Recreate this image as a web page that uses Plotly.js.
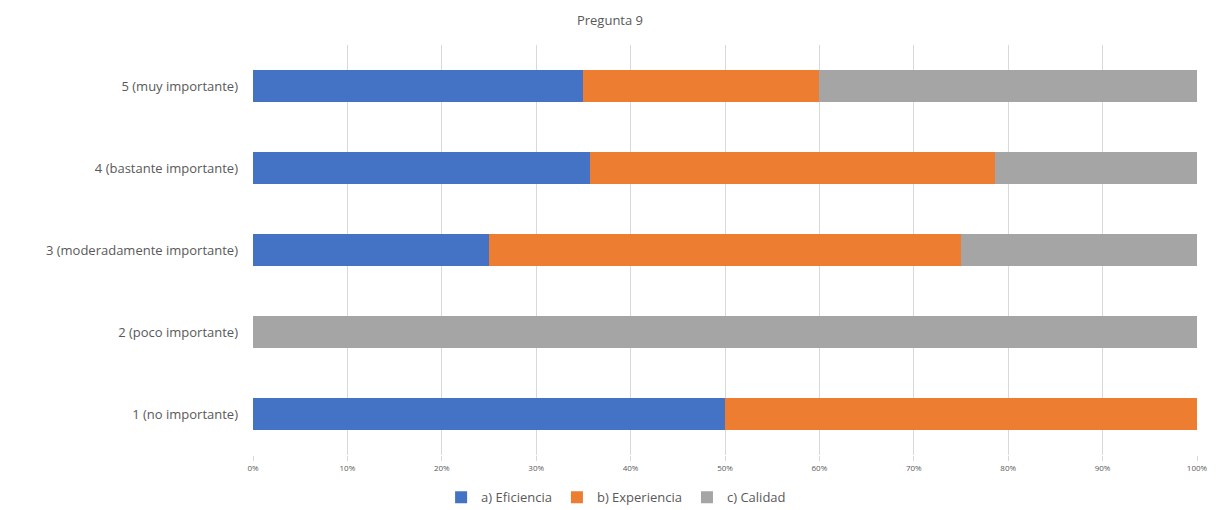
<!DOCTYPE html>
<html>
<head>
<meta charset="utf-8">
<script src="https://cdn.plot.ly/plotly-3.0.1.min.js"></script>
<style>
  html, body { margin: 0; padding: 0; background: #fff; }
  #chart { width: 1220px; height: 510px; }
</style>
</head>
<body>
<div id="chart"></div>
<script>
// Response levels (bottom to top)
const categories = [
  "1 (no importante)",
  "2 (poco importante)",
  "3 (moderadamente importante)",
  "4 (bastante importante)",
  "5 (muy importante)"
];

// Share of answers per level, in percent
const eficiencia  = [50, 0, 25, 35.7, 35];
const experiencia = [50, 0, 50, 42.9, 25];
const calidad     = [0, 100, 25, 21.4, 40];

const seriesNames = ["a) Eficiencia", "b) Experiencia", "c) Calidad"];
const tickValues = [0, 10, 20, 30, 40, 50, 60, 70, 80, 90, 100];
const tickLabels = ["0%", "10%", "20%", "30%", "40%", "50%", "60%", "70%", "80%", "90%", "100%"];

const colors = ["#4472C4", "#ED7D31", "#A5A5A5"];
const font = "Open Sans, Noto Sans, sans-serif";

const traces = [eficiencia, experiencia, calidad].map((vals, i) => ({
  type: "bar",
  orientation: "h",
  name: seriesNames[i],
  y: categories,
  x: vals,
  marker: { color: colors[i], line: { width: 0 } },
  hoverinfo: "x+name"
}));

const layout = {
  width: 1220,
  height: 510,
  barmode: "stack",
  bargap: 0.6,
  paper_bgcolor: "#fff",
  plot_bgcolor: "#fff",
  margin: { l: 253, r: 23, t: 45, b: 55 },
  title: {
    text: "Pregunta 9",
    font: { family: font, size: 13, color: "#595959" },
    xref: "container", x: 0.5, xanchor: "center",
    yref: "container", y: 0.96, yanchor: "middle"
  },
  xaxis: {
    range: [0, 100],
    tickvals: tickValues,
    ticktext: tickLabels,
    tickfont: { family: font, size: 8, color: "#595959" },
    showgrid: true,
    gridcolor: "#d9d9d9",
    gridwidth: 1,
    zeroline: false,
    showline: false,
    ticks: "outside",
    ticklen: 5,
    tickcolor: "#d9d9d9",
    fixedrange: true
  },
  yaxis: {
    type: "category",
    categoryorder: "array",
    categoryarray: categories,
    tickfont: { family: font, size: 13, color: "#595959" },
    showgrid: false,
    zeroline: false,
    showline: false,
    ticks: "",
    ticklabelstandoff: 14,
    fixedrange: true
  },
  showlegend: true,
  legend: {
    orientation: "h",
    xref: "container", x: 0.505, xanchor: "center",
    yref: "container", y: 0.025, yanchor: "middle",
    font: { family: font, size: 13, color: "#595959" },
    traceorder: "normal",
    itemwidth: 30
  }
};

Plotly.newPlot("chart", traces, layout, { displayModeBar: false, staticPlot: true });
</script>
</body>
</html>
